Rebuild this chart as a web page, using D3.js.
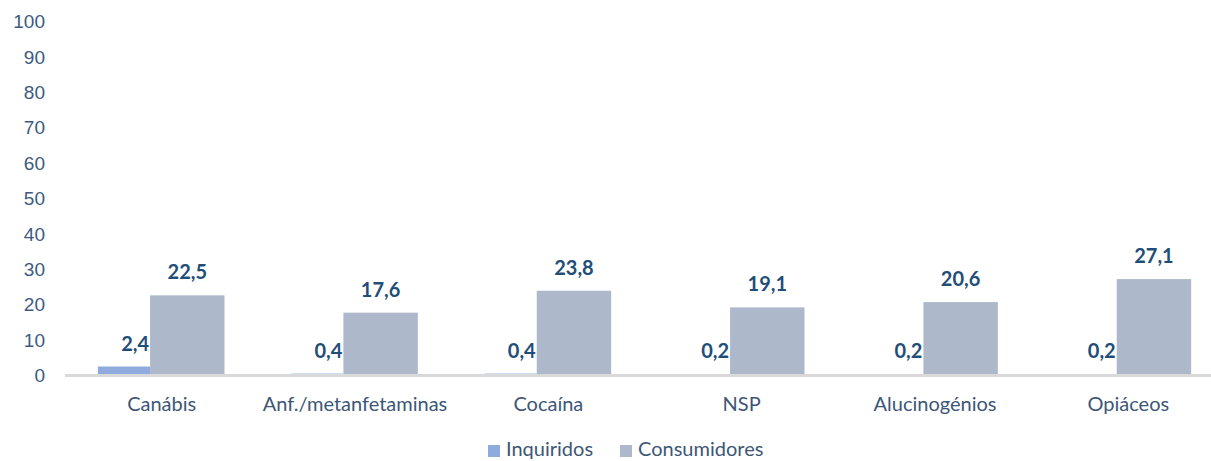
<!DOCTYPE html>
<html>
<head>
<meta charset="utf-8">
<script src="https://cdn.jsdelivr.net/npm/d3@7"></script>
<style>
  body { margin: 0; background: #fff; }
  svg { display: block; font-family: "Lato", "Open Sans", sans-serif; }
  .tick text { fill: #3d5b80; font-size: 19px; }
  .cat { fill: #3d5676; font-size: 20px; }
  .val { fill: #1f4e79; font-size: 20px; font-weight: bold; }
  .leg { fill: #3d5676; font-size: 20px; }
</style>
</head>
<body>
<svg class="chart"></svg>
<script>
var WIDTH = 1211;
var HEIGHT = 461;

var categories = ["Canábis", "Anf./metanfetaminas", "Cocaína", "NSP", "Alucinogénios", "Opiáceos"];
var inquiridos = [2.4, 0.4, 0.4, 0.2, 0.2, 0.2];
var consumidores = [22.5, 17.6, 23.8, 19.1, 20.6, 27.1];
var yTicks = [0, 10, 20, 30, 40, 50, 60, 70, 80, 90, 100];

var BLUE = "#8faadc";
var GREY = "#adb9ca";

var svg = d3.select(".chart").attr("width", WIDTH).attr("height", HEIGHT);

var x = d3.scaleBand()
    .domain(categories)
    .range([65, 1225]);

var y = d3.scaleLinear()
    .domain([0, 100])
    .range([375, 21]);

var bw = x.bandwidth();

// y axis labels only, no line
var yAxis = svg.append("g")
    .attr("transform", "translate(45,0)")
    .call(d3.axisLeft(y).tickValues(yTicks).tickSize(0).tickPadding(0).tickFormat(d3.format("d")));
yAxis.select(".domain").remove();
yAxis.selectAll("text").attr("dy", "0.35em");

var groups = svg.selectAll("g.grp")
    .data(categories)
    .enter()
    .append("g")
    .attr("class", "grp")
    .attr("transform", function(d) { return "translate(" + x(d) + ",0)"; });

// Consumidores bars
groups.append("rect")
    .attr("x", bw * 0.44)
    .attr("width", bw * 0.385)
    .attr("y", function(d, i) { return y(consumidores[i]); })
    .attr("height", function(d, i) { return y(0) - y(consumidores[i]); })
    .attr("fill", GREY);

// Inquiridos bars
groups.append("rect")
    .attr("x", bw * 0.17)
    .attr("width", bw * 0.27)
    .attr("y", function(d, i) { return y(inquiridos[i]); })
    .attr("height", function(d, i) { return y(0) - y(inquiridos[i]); })
    .attr("fill", BLUE);

// axis line
svg.append("line")
    .attr("x1", 65).attr("x2", WIDTH)
    .attr("y1", y(0) + 0.5).attr("y2", y(0) + 0.5)
    .attr("stroke", "#d9d9d9")
    .attr("stroke-width", 3);

groups.append("text")
    .attr("class", "val")
    .attr("x", bw * 0.44 + bw * 0.385 / 2)
    .attr("y", function(d, i) { return y(consumidores[i]) - 16; })
    .attr("text-anchor", "middle")
    .text(function(d, i) { return d3.format(".1f")(consumidores[i]).replace(".", ","); });

groups.append("text")
    .attr("class", "val")
    .attr("x", bw * 0.44 - 1)
    .attr("y", function(d, i) { return y(inquiridos[i]) - 16; })
    .attr("text-anchor", "end")
    .text(function(d, i) { return d3.format(".1f")(inquiridos[i]).replace(".", ","); });

groups.append("text")
    .attr("class", "cat")
    .attr("x", bw / 2)
    .attr("y", 411)
    .attr("text-anchor", "middle")
    .text(function(d) { return d; });

// legend
var legend = [["Inquiridos", BLUE, 488], ["Consumidores", GREY, 620]];
var lg = svg.selectAll("g.leg")
    .data(legend)
    .enter()
    .append("g")
    .attr("transform", function(d) { return "translate(" + d[2] + ",0)"; });
lg.append("rect")
    .attr("x", 0).attr("y", 445)
    .attr("width", 12).attr("height", 12)
    .attr("fill", function(d) { return d[1]; });
lg.append("text")
    .attr("class", "leg")
    .attr("x", 18)
    .attr("y", 456)
    .text(function(d) { return d[0]; });
</script>
</body>
</html>
